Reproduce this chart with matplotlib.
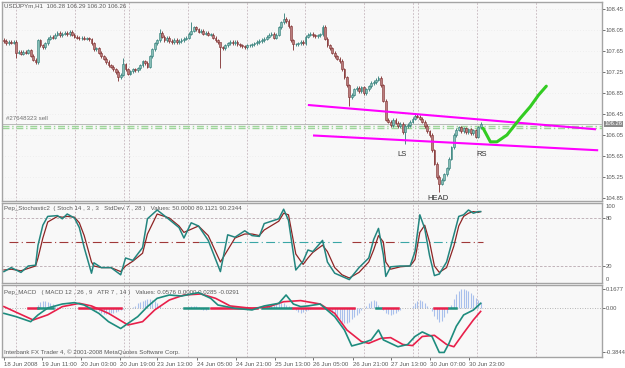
import matplotlib
matplotlib.use("Agg")
import matplotlib.pyplot as plt
import matplotlib.transforms as mtransforms

plt.rcParams['font.family'] = ['Liberation Sans', 'DejaVu Sans']

W, H = 625, 368

# hourly closes USDJPYm H1 (bar 0 = 18 Jun 19:00)
first_open = 107.86
closes = [
    107.84, 107.80, 107.83, 107.81, 107.82, 107.62, 107.63, 107.60, 107.64, 107.62,
    107.66, 107.56, 107.48, 107.44, 107.85, 107.76, 107.72, 107.80, 107.88, 107.92,
    107.90, 107.96, 108.00, 107.95, 107.98, 108.00, 107.97, 108.02, 107.96, 107.92,
    107.90, 107.89, 107.90, 107.88, 107.89, 107.87, 107.80, 107.68, 107.70, 107.62,
    107.55, 107.50, 107.44, 107.38, 107.35, 107.30, 107.25, 107.15, 107.20, 107.40,
    107.30, 107.22, 107.26, 107.30, 107.28, 107.32, 107.38, 107.45, 107.42, 107.35,
    107.55, 107.68, 107.80, 107.85, 108.00, 107.92, 107.86, 107.90, 107.84, 107.82,
    107.86, 107.82, 107.84, 107.86, 107.88, 107.90, 107.98, 108.04, 108.10, 108.06,
    108.02, 108.04, 107.98, 108.00, 107.96, 107.96, 107.90, 107.85, 107.82, 107.72,
    107.70, 107.76, 107.80, 107.82, 107.80, 107.82, 107.78, 107.76, 107.74, 107.72,
    107.76, 107.76, 107.78, 107.80, 107.82, 107.84, 107.86, 107.88, 107.92, 107.96,
    107.98, 107.90, 107.96, 108.10, 108.20, 108.26, 108.22, 108.12, 107.85, 107.78,
    107.78, 107.80, 107.82, 107.80, 107.92, 107.96, 107.98, 107.95, 107.93, 107.95,
    107.97, 108.11, 107.88, 107.76, 107.70, 107.62, 107.55, 107.50, 107.46, 107.30,
    107.15, 107.00, 106.77, 106.82, 106.92, 106.95, 106.88, 106.96, 106.85, 106.92,
    106.98, 107.04, 107.06, 107.10, 107.14, 107.00, 106.70, 106.34, 106.30, 106.24,
    106.34, 106.28, 106.22, 106.26, 106.10, 106.22, 106.24, 106.30, 106.36, 106.42,
    106.40, 106.36, 106.30, 106.22, 106.12, 106.05, 105.76, 105.50, 105.25, 105.12,
    105.20, 105.30, 105.42, 105.60, 105.82, 106.05, 106.15, 106.20, 106.12, 106.18,
    106.10, 106.16, 106.08, 106.14, 106.02, 106.20, 106.26,
]
spike_highs = {49: 107.52, 64: 108.06, 77: 108.20, 89: 107.80, 115: 108.37, 131: 108.15}
spike_lows = {5: 107.52, 13: 107.40, 47: 107.08, 89: 107.33, 119: 107.67,
              142: 106.60, 165: 105.88, 179: 104.96, 194: 106.00}

# Stochastic (bar, value)
stoch_bars = [0, 3, 7, 10, 13, 14, 16, 18, 22, 24, 26, 29, 31, 33, 36, 37, 40, 44, 48, 50,
              53, 57, 59, 63, 68, 72, 74, 77, 80, 84, 89, 92, 95, 99, 102, 105, 107, 113, 115, 117,
              120, 123, 125, 127, 131, 133, 136, 139, 142, 146, 150, 152, 154, 156, 157, 159, 163, 167, 169, 171,
              173, 175, 177, 179, 182, 185, 187, 189, 191, 193, 195, 196]
stoch_main = [13, 18, 12, 20, 21, 46, 71, 82, 83, 79, 85, 80, 68, 43, 11, 24, 18, 18, 9, 30,
              27, 43, 79, 90, 78, 68, 55, 74, 70, 52, 13, 59, 56, 64, 58, 57, 73, 79, 91, 77,
              15, 26, 40, 38, 52, 25, 11, 7, 3, 18, 30, 53, 67, 34, 7, 19, 20, 20, 38, 84,
              67, 33, 8, 10, 25, 59, 82, 84, 90, 86, 88, 88]
stoch_signal = [15, 16, 14, 17, 20, 30, 55, 75, 82, 81, 82, 81, 74, 58, 25, 20, 18, 18, 13, 20,
                26, 36, 60, 85, 80, 70, 62, 66, 70, 58, 25, 40, 55, 60, 60, 58, 65, 76, 86, 84,
                35, 22, 30, 37, 46, 38, 18, 9, 5, 12, 25, 40, 58, 50, 25, 16, 19, 20, 28, 62,
                71, 50, 20, 12, 18, 45, 70, 82, 86, 88, 87, 88]
stoch_mid_segs = [(2, 80, 'r'), (80, 140, 't'), (143, 162, 'r'), (163, 186, 't'), (188, 197, 'r')]

# MACD main / signal (bar, value)
macd_bars = [0, 5, 11, 14, 18, 24, 29, 33, 39, 43, 48, 51, 55, 59, 63, 68, 73, 80, 85, 88,
             95, 102, 107, 113, 116, 119, 122, 125, 130, 136, 140, 143, 147, 151, 154, 156, 162, 166, 169, 172,
             176, 179, 181, 183, 186, 189, 193, 196]
macd_main = [-0.047, -0.076, -0.120, -0.061, 0.000, 0.035, 0.047, 0.026, -0.047, -0.120,
             -0.180, -0.135, -0.076, 0.012, 0.085, 0.114, 0.105, 0.135, 0.085, 0.026,
             -0.003, -0.017, 0.018, 0.041, 0.114, 0.035, 0.012, 0.018, 0.035, -0.076,
             -0.193, -0.333, -0.310, -0.280, -0.193, -0.280, -0.340, -0.320, -0.250, -0.210,
             -0.250, -0.390, -0.390, -0.310, -0.160, -0.061, -0.018, 0.041]
sig_bars = [0, 6, 12, 18, 24, 31, 36, 43, 51, 57, 62, 68, 74, 81, 87, 93, 102, 109, 115, 122,
            130, 136, 141, 147, 150, 155, 159, 164, 168, 172, 177, 182, 185, 189, 193, 196]
macd_signal = [0.012, -0.047, -0.105, -0.060, 0.012, 0.041, 0.018, -0.047, -0.149, -0.120,
               -0.017, 0.070, 0.114, 0.123, 0.085, 0.018, -0.003, 0.012, 0.055, 0.065,
               0.035, -0.047, -0.193, -0.295, -0.310, -0.266, -0.260, -0.320, -0.330, -0.250,
               -0.240, -0.320, -0.340, -0.220, -0.105, -0.030]
hist_groups = [
    (13, [0.01, 0.03, 0.05, 0.06, 0.06, 0.05, 0.045, 0.035, 0.02, 0.01]),
    (37, [-0.01, -0.02, -0.03, -0.04, -0.05, -0.05, -0.05, -0.045, -0.04, -0.035, -0.03, -0.02, -0.01]),
    (53, [0.01, 0.02, 0.04, 0.05, 0.06, 0.07, 0.08, 0.08, 0.07, 0.06, 0.04, 0.02]),
    (76, [0.01, 0.015, 0.02, 0.015, 0.01, -0.01, -0.015, -0.02, -0.01]),
    (107, [0.01, 0.015, 0.02, 0.025, 0.03, 0.035, 0.04, 0.045, 0.04, 0.03, 0.02, 0.01]),
    (119, [-0.01, -0.02, -0.035, -0.04, -0.035, -0.025, -0.015, -0.01]),
    (134, [-0.02, -0.04, -0.06, -0.08, -0.10, -0.12, -0.13, -0.13, -0.12, -0.10, -0.08, -0.06, -0.04, -0.02]),
    (149, [0.02, 0.04, 0.06, 0.07, 0.06, 0.03]),
    (156, [-0.02, -0.04, -0.055, -0.06, -0.055, -0.045, -0.03, -0.015]),
    (168, [0.02, 0.04, 0.06, 0.07, 0.06, 0.04, 0.02]),
    (176, [-0.03, -0.07, -0.10, -0.12, -0.11, -0.08, -0.04]),
    (184, [0.03, 0.08, 0.12, 0.15, 0.165, 0.165, 0.16, 0.15, 0.13, 0.11, 0.09, 0.07, 0.05]),
]
zero_segs = [(10, 14, 'r'), (14, 20, 't'), (31, 48, 'r'), (74, 84, 't'), (85, 104, 'r'),
             (106, 118, 't'), (119, 144, 'r'), (153, 155, 't'), (156, 162, 'r'),
             (177, 182, 'r'), (183, 186, 't')]

# hand drawn objects
upper_line = ([125.4, 243.0], [106.62, 106.16])
lower_line = ([127.5, 243.9], [106.04, 105.76])
green_x = [197, 200, 202.7, 206.8, 212.3, 216.4, 219.8, 223]
green_y = [106.18, 105.92, 105.92, 106.05, 106.37, 106.59, 106.81, 106.98]

price_ticks = [108.45, 108.05, 107.65, 107.25, 106.85, 106.45, 106.05, 105.65, 105.25, 104.85]
date_labels = ["18 Jun 2008", "19 Jun 11:00", "20 Jun 03:00", "20 Jun 19:00", "23 Jun 13:00",
               "24 Jun 05:00", "24 Jun 21:00", "25 Jun 13:00", "26 Jun 05:00", "26 Jun 21:00",
               "27 Jun 13:00", "30 Jun 07:00", "30 Jun 23:00"]
date_bars = [0, 15.6, 31.6, 47.9, 63.1, 79.5, 95.5, 111.5, 127, 143.4, 159, 175, 191.4]
grid_bars = [4.9, 29.1, 49.3, 51.6, 75.8, 100, 123.8, 148, 168, 170.1, 194.7, 218.9]

TEAL = '#23857f'
RED = '#8e2424'
GRAY = '#5a5a5a'
FS = 4.4


def rect(x0, y0, x1, y1):
    return [x0 / W, 1 - y1 / H, (x1 - x0) / W, (y1 - y0) / H]


fig = plt.figure(figsize=(W / 100, H / 100), dpi=100)
fig.patch.set_facecolor('white')
ax_p = fig.add_axes(rect(2, 2, 602, 201))
ax_s = fig.add_axes(rect(2, 203, 602, 283))
ax_m = fig.add_axes(rect(2, 285, 602, 357))

for ax in (ax_p, ax_s, ax_m):
    ax.set_facecolor('#f8f8f8')
    ax.set_xlim(-0.8, 245.9)
    for sp in ax.spines.values():
        sp.set_color('#a4a4a4')
        sp.set_linewidth(1.0)
    ax.yaxis.tick_right()
    ax.tick_params(axis='y', labelsize=4.2, length=2, pad=0.6, colors=GRAY, width=0.6)
    for b in grid_bars:
        ax.axvline(b, color='#c4b4bc', ls=(0, (2, 2)), lw=0.6, zorder=0)

# ---- price candles
ax_p.set_ylim(104.793, 108.583)
ax_p.set_yticks(price_ticks)
ax_p.set_yticklabels(["%.2f" % t for t in price_ticks])
ax_p.set_xticks([])
for t in price_ticks:
    ax_p.axhline(t, color='#e6e6e6', ls=(0, (1, 3)), lw=0.5, zorder=0)

opens = [first_open] + closes[:-1]
for i, (o, c) in enumerate(zip(opens, closes)):
    up = c >= o
    hi = spike_highs.get(i, max(o, c) + 0.03)
    lo = spike_lows.get(i, min(o, c) - 0.03)
    edge = '#2e7b76' if up else '#7d2c2c'
    face = '#86bdb6' if up else '#b97c7c'
    ax_p.vlines(i, lo, hi, color=edge, lw=0.6, zorder=2)
    ax_p.bar(i, max(abs(c - o), 0.008), bottom=min(o, c), width=0.75,
             color=face, edgecolor=edge, linewidth=0.4, zorder=3)

ax_p.axhline(106.26, color='#b0b0b0', lw=0.6, zorder=1)
ax_p.axhline(106.227, color='#9ed69a', ls=(0, (5, 2, 1, 2)), lw=1.0, zorder=1)
ax_p.axhline(106.177, color='#9ed69a', ls=(0, (5, 2, 1, 2)), lw=1.0, zorder=1)
ax_p.text(1, 106.37, "#27648323 sell", fontsize=FS, color='#707070', va='center')

ax_p.plot(*upper_line, color='#ff00ff', lw=1.5, zorder=4)
ax_p.plot(*lower_line, color='#ff00ff', lw=1.5, zorder=4)
ax_p.plot(green_x, green_y, color='#33cc22', lw=2.2, solid_capstyle='round', zorder=5)

ax_p.text(163.5, 105.67, "LS", fontsize=5.5, color='#303030', ha='center', va='center')
ax_p.text(196.3, 105.67, "RS", fontsize=5.5, color='#303030', ha='center', va='center')
ax_p.text(178.3, 104.85, "HEAD", fontsize=5.5, color='#303030', ha='center', va='center', clip_on=True)

ax_p.text(0.003, 0.98, "USDJPYm,H1  106.28 106.29 106.20 106.26", transform=ax_p.transAxes,
          fontsize=FS, color=GRAY, va='center', ha='left')
trans = mtransforms.blended_transform_factory(ax_p.transAxes, ax_p.transData)
ax_p.text(1.004, 106.26, "106.26", transform=trans, fontsize=4.2, color='white', va='center',
          ha='left', clip_on=False,
          bbox=dict(boxstyle='square,pad=0.15', facecolor='#8a8a8a', edgecolor='none'))

# ---- stochastic
ax_s.set_ylim(-1.25, 98.75)
ax_s.set_yticks([80, 20])
ax_s.set_yticklabels(["80", "20"])
ax_s.set_xticks([])
ax_s.axhline(80, color='#b8a8b0', ls=(0, (3, 2)), lw=0.6, zorder=0)
ax_s.axhline(20, color='#b8a8b0', ls=(0, (3, 2)), lw=0.6, zorder=0)
for a, b, c in stoch_mid_segs:
    ax_s.plot([a, b], [50, 50], color='#a03838' if c == 'r' else '#3aa6a6',
              ls=(0, (8, 3, 1, 3)), lw=0.8, zorder=1)
ax_s.plot(stoch_bars, stoch_signal, color=RED, lw=0.9, zorder=2)
ax_s.plot(stoch_bars, stoch_main, color=TEAL, lw=1.1, zorder=3)
strans = mtransforms.blended_transform_factory(ax_s.transAxes, ax_s.transData)
ax_s.text(1.006, 94, "100", transform=strans, fontsize=4.2, color=GRAY, va='center', clip_on=False)
ax_s.text(1.006, 3.5, "0", transform=strans, fontsize=4.2, color=GRAY, va='center', clip_on=False)
ax_s.text(0.003, 0.93, "Pep_Stochastic2  ( Stoch 14 , 3 , 3   StdDev 7 , 28 )   Values: 50.0000 89.1121 90.2344",
          transform=ax_s.transAxes, fontsize=FS, color=GRAY, va='center')

# ---- MACD
ax_m.set_ylim(-0.43, 0.2018)
ax_m.set_yticks([0.1677, 0.0, -0.3844])
ax_m.set_yticklabels(["0.1677", "0.00", "-0.3844"])
for start, vals in hist_groups:
    xs = list(range(start, start + len(vals)))
    ax_m.vlines(xs, 0, vals, color='#a9c0ec', lw=0.8, zorder=1)
ax_m.axhline(0, color='#a0a0a0', ls=(0, (1, 2)), lw=0.6, zorder=1)
for a, b, c in zero_segs:
    ax_m.plot([a, b], [0, 0], color='#e8204a' if c == 'r' else '#1f9080', lw=1.8, zorder=2)
ax_m.plot(sig_bars, macd_signal, color='#e8204a', lw=1.2, zorder=3)
ax_m.plot(macd_bars, macd_main, color='#1e8c7e', lw=1.2, zorder=4)
ax_m.text(0.003, 0.9, "Pep_MACD   ( MACD 12 , 26 , 9   ATR 7 , 14 )   Values: 0.0576 0.0000 0.0285 -0.0291",
          transform=ax_m.transAxes, fontsize=FS, color=GRAY, va='center')
ax_m.text(0.003, 0.06, "Interbank FX Trader 4, \u00a9 2001-2008 MetaQuotes Software Corp.",
          transform=ax_m.transAxes, fontsize=FS, color=GRAY, va='center')

ax_m.set_xticks(date_bars)
ax_m.set_xticklabels(date_labels, ha='left')
ax_m.tick_params(axis='x', labelsize=FS, length=2, pad=1.5, colors=GRAY, width=0.6)

fig.savefig('out.png', dpi=100)
